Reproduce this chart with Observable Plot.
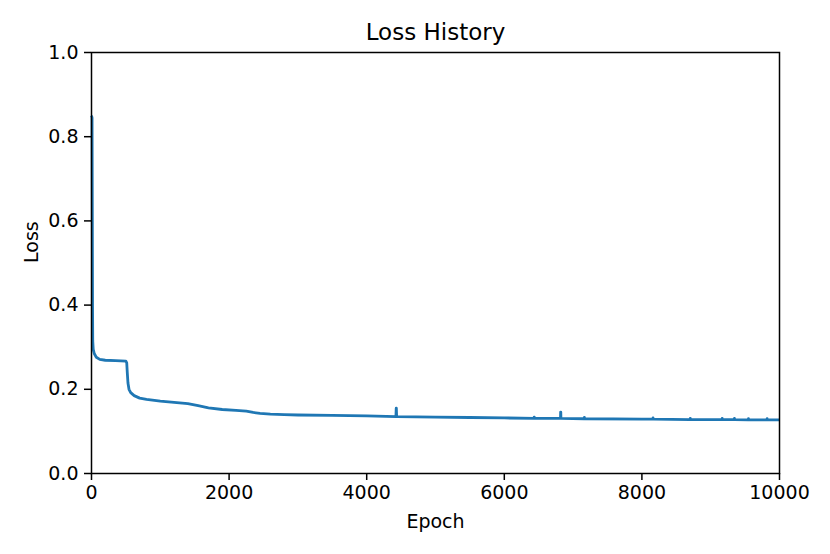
<!DOCTYPE html>
<html>
<head>
<meta charset="utf-8">
<script src="https://cdn.jsdelivr.net/npm/d3@7"></script>
<script src="https://cdn.jsdelivr.net/npm/@observablehq/plot@0.6"></script>
<style>
  html, body { margin: 0; padding: 0; background: #fff; }
  #chart svg { display: block; }
</style>
</head>
<body>
<div id="chart"></div>
<script>
// Data (epoch, loss)
const epochs = [0, 8, 12, 15, 18, 25, 40, 70, 120, 200, 350, 500, 512, 520, 530, 545, 570, 620, 700, 800, 1000, 1200, 1400, 1550, 1700, 1900, 2100, 2250, 2350, 2450, 2600, 2800, 3000, 3500, 4000, 4425, 4429, 4431, 4435, 5000, 5500, 6000, 6432, 6435, 6438, 6817, 6819, 6821, 6823, 7162, 7164, 7166, 8000, 8160, 8162, 8164, 8700, 8703, 8706, 9000, 9165, 9167, 9169, 9343, 9345, 9347, 9547, 9549, 9551, 9818, 9820, 9822, 10000];
const losses = [0.850, 0.845, 0.600, 0.400, 0.315, 0.295, 0.285, 0.276, 0.271, 0.269, 0.268, 0.267, 0.263, 0.240, 0.215, 0.200, 0.192, 0.185, 0.179, 0.176, 0.172, 0.169, 0.166, 0.161, 0.156, 0.152, 0.150, 0.148, 0.145, 0.143, 0.141, 0.140, 0.139, 0.138, 0.137, 0.135, 0.155, 0.155, 0.135, 0.134, 0.133, 0.132, 0.131, 0.134, 0.131, 0.131, 0.146, 0.146, 0.131, 0.130, 0.133, 0.130, 0.129, 0.129, 0.132, 0.129, 0.128, 0.131, 0.128, 0.128, 0.128, 0.131, 0.128, 0.128, 0.131, 0.128, 0.1275, 0.1305, 0.1275, 0.1275, 0.1305, 0.1275, 0.1275];
const xTicks = [0, 2000, 4000, 6000, 8000, 10000];
const yTicks = [0.0, 0.2, 0.4, 0.6, 0.8, 1.0];
const titleText = "Loss History";
const xLabel = "Epoch";
const yLabel = "Loss";

const data = epochs.map((e, i) => ({epoch: e, loss: losses[i]}));

const font = "DejaVu Sans, Verdana, sans-serif";

const chart = Plot.plot({
  width: 830,
  height: 554,
  marginLeft: 91,
  marginRight: 51,
  marginTop: 52,
  marginBottom: 81,
  style: {fontFamily: font, fontSize: "19px", color: "#000", background: "#fff", overflow: "visible"},
  x: {domain: [0, 10000]},
  y: {domain: [0, 1]},
  marks: [
    Plot.line(data, {x: "epoch", y: "loss", stroke: "#1f77b4", strokeWidth: 2.8, strokeLinejoin: "round", strokeLinecap: "butt"}),
    Plot.frame({stroke: "#000", strokeWidth: 1.5}),
    Plot.axisX({ticks: xTicks, tickFormat: d3.format("d"), tickSize: 7, tickPadding: 5, strokeWidth: 1.5, label: null, fontSize: 19}),
    Plot.axisY({ticks: yTicks, tickFormat: d3.format(".1f"), tickSize: 7, tickPadding: 6, strokeWidth: 1.5, label: null, fontSize: 19}),
    Plot.text([titleText], {frameAnchor: "top", dy: -20, lineAnchor: "middle", fontSize: 23, fill: "#000"}),
    Plot.text([xLabel], {frameAnchor: "bottom", dy: 48, lineAnchor: "middle", fontSize: 19, fill: "#000"}),
    Plot.text([yLabel], {frameAnchor: "left", dx: -60, rotate: -90, lineAnchor: "middle", fontSize: 19, fill: "#000"})
  ]
});
document.getElementById("chart").appendChild(chart);
</script>
</body>
</html>
